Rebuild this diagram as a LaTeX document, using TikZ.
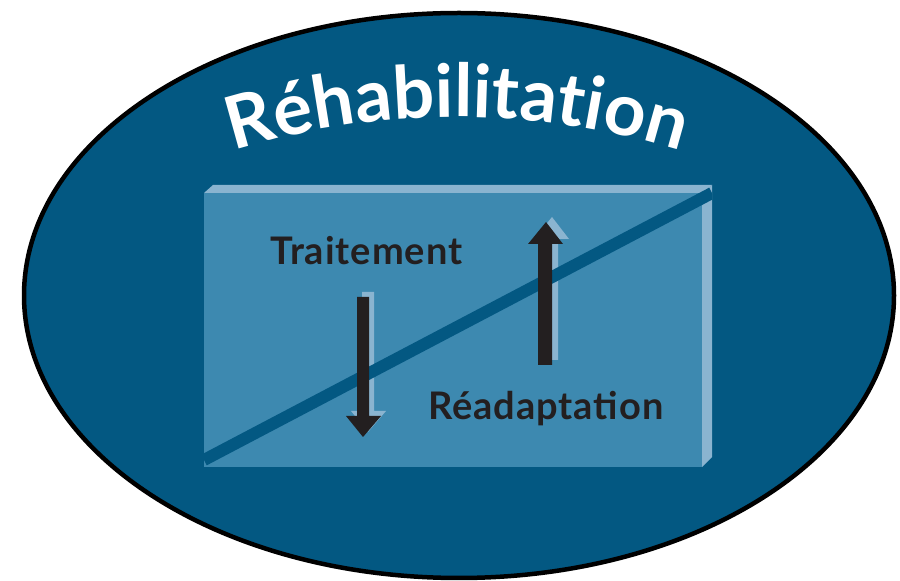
\documentclass[tikz,border=0pt]{standalone}
\usepackage{fontspec}
\setmainfont{Lato}
\usetikzlibrary{decorations.text}
\definecolor{ovalblue}{HTML}{035882}
\definecolor{boxblue}{HTML}{3D89B0}
\definecolor{edgeblue}{HTML}{8AB4D0}
\definecolor{arrowblack}{HTML}{231F20}

\begin{document}
\begin{tikzpicture}[x=1pt, y=1pt]
        \tikzset{label text/.style={font=\fontsize{38}{38}\selectfont\bfseries\addfontfeatures{LetterSpace=2.5}, text=arrowblack, inner sep=0pt, anchor=base west}}
        \useasboundingbox (0,0) rectangle (900,581);

        \coordinate (O) at (459, 285.5);
        \coordinate (A) at (204, 114);
        \coordinate (B) at (204, 388);
        \coordinate (C) at (702, 388);
        \coordinate (D) at (702, 114);
        \coordinate (E) at (213, 396);
        \coordinate (F) at (712, 396);
        \coordinate (G) at (712, 124);

        \draw[line width=4.5pt, fill=ovalblue] (O) ellipse [x radius=435pt, y radius=282.5pt];

        % the box
        \fill[boxblue] (A) -- (B) -- (C) -- (D) -- cycle;
        \fill[edgeblue] (B) -- (E) -- (F) -- (C) -- cycle;
        \fill[edgeblue] (C) -- (F) -- (G) -- (D) -- cycle;

        % arrow shadows
        \fill[edgeblue, shift={(5,5)}] (357,284) -- (369,284) -- (369,165) -- (381,165) -- (363,144) -- (346,165) -- (357,165) -- cycle;
        \fill[edgeblue, shift={(6,5)}] (538,216) -- (552,216) -- (552,337) -- (563,337) -- (546,359) -- (528,337) -- (538,337) -- cycle;

        \begin{scope}
            \clip (A) -- (B) -- (E) -- (F) -- (G) -- (D) -- cycle;
            \draw[ovalblue, line width=12pt] (204,121) -- (712,388);
        \end{scope}

        \fill[arrowblack] (357,284) -- (369,284) -- (369,165) -- (381,165) -- (363,144) -- (346,165) -- (357,165) -- cycle;
        \fill[arrowblack] (538,216) -- (552,216) -- (552,337) -- (563,337) -- (546,359) -- (528,337) -- (538,337) -- cycle;

        \node[label text] (traitement) at (270, 316) {Traitement};
        \node[label text] (readaptation) at (428, 161) {Réadaptation};

        \path[decorate, decoration={text along path, text align=center, text color=white,
            text={|\fontsize{73}{73}\selectfont\bfseries|Réhabilitation}}]
            (457,-286) ++(112:750pt) arc [start angle=112, end angle=68, radius=750pt];
\end{tikzpicture}
\end{document}
